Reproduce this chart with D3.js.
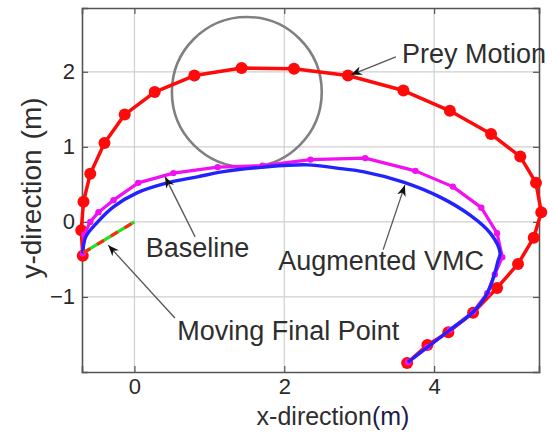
<!DOCTYPE html>
<html>
<head>
<meta charset="utf-8">
<script src="https://cdn.jsdelivr.net/npm/d3@7"></script>
<style>
  html, body { margin: 0; padding: 0; background: #fff; }
  svg { display: block; font-family: "Liberation Sans", Arial, Helvetica, sans-serif; }
</style>
</head>
<body>
<svg id="chart" width="553" height="435"></svg>
<script>
// Axis ticks
const xTicks = [0, 2, 4];
const yTicks = [-1, 0, 1, 2];

// Prey trajectory (sampled positions, metres)
const preyX = [-0.69, -0.71, -0.68, -0.59, -0.40, -0.13, 0.27, 0.80, 1.43, 2.13, 2.85, 3.59, 4.21, 4.76, 5.15, 5.36, 5.43, 5.33, 5.12, 4.84, 4.52, 4.19, 3.91, 3.64];
const preyY = [-0.45, -0.11, 0.27, 0.64, 1.05, 1.43, 1.73, 1.95, 2.05, 2.04, 1.95, 1.75, 1.48, 1.17, 0.87, 0.52, 0.13, -0.21, -0.56, -0.88, -1.21, -1.47, -1.64, -1.88];

// Pursuer path with the augmented virtual model control
const vmcX = [-0.69, -0.65, -0.49, -0.28, 0.04, 0.44, 0.84, 1.19, 1.72, 2.31, 2.75, 3.05, 3.59, 4.08, 4.48, 4.75, 4.88, 4.85, 4.81, 4.71, 4.52, 4.21, 3.91, 3.65];
const vmcY = [-0.42, -0.20, 0.00, 0.20, 0.39, 0.52, 0.60, 0.67, 0.73, 0.76, 0.71, 0.67, 0.53, 0.33, 0.09, -0.15, -0.41, -0.53, -0.68, -0.95, -1.20, -1.44, -1.67, -1.87];

// Pursuer path with the baseline controller
const baseX = [-0.69, -0.67, -0.59, -0.48, -0.28, 0.05, 0.52, 1.11, 1.71, 2.35, 3.08, 3.75, 4.25, 4.63, 4.84, 4.91, 4.81, 4.71, 4.52, 4.21, 3.91, 3.65];
const baseY = [-0.42, -0.17, 0.00, 0.13, 0.29, 0.52, 0.65, 0.73, 0.75, 0.83, 0.85, 0.68, 0.47, 0.19, -0.15, -0.47, -0.70, -0.95, -1.20, -1.44, -1.67, -1.87];

// Moving final point segment
const finalX = [-0.68, 0.0];
const finalY = [-0.41, 0.0];

// Obstacle (centre x, centre y, radius)
const obstacle = [1.5, 1.73, 1.0];

// Annotation labels
const noteLabels = ["Prey Motion", "Baseline", "Augmented VMC", "Moving Final Point"];

const svg = d3.select("#chart");
const plot = { left: 82, right: 539, top: 8, bottom: 372 };

const x = d3.scaleLinear().domain([-0.7, 5.4]).range([plot.left, plot.right]);
const y = d3.scaleLinear().domain([-2.0, 2.85]).range([plot.bottom, plot.top]);

const zip = (xs, ys) => xs.map((v, i) => [v, ys[i]]);

// Grid
const grid = svg.append("g");
grid.selectAll(".gx").data(xTicks).join("line")
  .attr("x1", d => x(d)).attr("x2", d => x(d))
  .attr("y1", plot.top).attr("y2", plot.bottom)
  .attr("stroke", "#cfcfcf").attr("stroke-width", 1.2);
grid.selectAll(".gy").data(yTicks).join("line")
  .attr("y1", d => y(d)).attr("y2", d => y(d))
  .attr("x1", plot.left).attr("x2", plot.right)
  .attr("stroke", "#cfcfcf").attr("stroke-width", 1.2);

// Axes with inward ticks
const axisColor = "#555";
const xAxis = svg.append("g").attr("transform", `translate(0,${plot.bottom})`)
  .call(d3.axisBottom(x).tickValues(xTicks).tickSize(-6).tickPadding(6).tickFormat(d3.format("d")));
const xAxisTop = svg.append("g").attr("transform", `translate(0,${plot.top})`)
  .call(d3.axisTop(x).tickValues(xTicks).tickSize(-6).tickFormat(""));
const yAxis = svg.append("g").attr("transform", `translate(${plot.left},0)`)
  .call(d3.axisLeft(y).tickValues(yTicks).tickSize(-6).tickPadding(7).tickFormat(d3.format("d")));
const yAxisRight = svg.append("g").attr("transform", `translate(${plot.right},0)`)
  .call(d3.axisRight(y).tickValues(yTicks).tickSize(-6).tickFormat(""));

[xAxis, xAxisTop, yAxis, yAxisRight].forEach(g => {
  g.select(".domain").attr("stroke", axisColor).attr("stroke-width", 1.6);
  g.selectAll(".tick line").attr("stroke", axisColor).attr("stroke-width", 1.2);
  g.selectAll(".tick text").attr("fill", "#2a2a2a").attr("font-size", 22)
    .attr("font-family", "Liberation Sans, Arial, sans-serif");
});

// Obstacle circle
svg.append("ellipse")
  .attr("cx", x(obstacle[0])).attr("cy", y(obstacle[1]))
  .attr("rx", x(obstacle[0] + obstacle[2]) - x(obstacle[0]))
  .attr("ry", y(obstacle[1]) - y(obstacle[1] + obstacle[2]))
  .attr("fill", "none").attr("stroke", "#808080").attr("stroke-width", 2.6);

const line = d3.line().x(d => x(d[0])).y(d => y(d[1]));
const smooth = d3.line().x(d => x(d[0])).y(d => y(d[1])).curve(d3.curveCatmullRom.alpha(0.5));

// Prey motion
const prey = zip(preyX, preyY);
svg.append("path").datum(prey).attr("d", line)
  .attr("fill", "none").attr("stroke", "#ff0a0a").attr("stroke-width", 3.5).attr("stroke-linejoin", "round");
svg.append("g").selectAll("circle").data(prey).join("circle")
  .attr("cx", d => x(d[0])).attr("cy", d => y(d[1])).attr("r", 6)
  .attr("fill", "#ff0a0a");

// Baseline path
const base = zip(baseX, baseY);
svg.append("path").datum(base).attr("d", line)
  .attr("fill", "none").attr("stroke", "#f010f0").attr("stroke-width", 3.2).attr("stroke-linejoin", "round");
svg.append("g").selectAll("circle").data(base).join("circle")
  .attr("cx", d => x(d[0])).attr("cy", d => y(d[1])).attr("r", 3.2)
  .attr("fill", "#f010f0");

// Augmented VMC path
const vmc = zip(vmcX, vmcY);
svg.append("path").datum(vmc).attr("d", smooth)
  .attr("fill", "none").attr("stroke", "#2222ff").attr("stroke-width", 3.4).attr("stroke-linejoin", "round");

// Moving final point (green with red dashes)
const fin = zip(finalX, finalY);
svg.append("path").datum(fin).attr("d", line)
  .attr("fill", "none").attr("stroke", "#22e022").attr("stroke-width", 3.2);
svg.append("path").datum(fin).attr("d", line)
  .attr("fill", "none").attr("stroke", "#ff2a0a").attr("stroke-width", 3.2)
  .attr("stroke-dasharray", "8,8");

// Annotations: label anchor and arrow (tail -> tip) in data units
const notes = [
  { text: noteLabels[0], at: [3.57, 2.12], tail: [3.49, 2.20], tip: [2.89, 1.96] },
  { text: noteLabels[1], at: [0.15, -0.47], tail: [0.81, -0.20], tip: [0.41, 0.60] },
  { text: noteLabels[2], at: [1.92, -0.64], tail: [3.32, -0.37], tip: [3.61, 0.49] },
  { text: noteLabels[3], at: [0.57, -1.57], tail: [0.54, -1.28], tip: [-0.35, -0.31] }
];

svg.append("defs").append("marker")
  .attr("id", "arrowHead").attr("viewBox", "0 0 10 10")
  .attr("refX", 10).attr("refY", 5)
  .attr("markerWidth", 11).attr("markerHeight", 11)
  .attr("markerUnits", "userSpaceOnUse")
  .attr("orient", "auto")
  .append("path").attr("d", "M0,1 L10,5 L0,9 L3,5 Z").attr("fill", "#111");

const ann = svg.append("g");
ann.selectAll("line").data(notes).join("line")
  .attr("x1", d => x(d.tail[0])).attr("y1", d => y(d.tail[1]))
  .attr("x2", d => x(d.tip[0])).attr("y2", d => y(d.tip[1]))
  .attr("stroke", "#555").attr("stroke-width", 1.3)
  .attr("marker-end", "url(#arrowHead)");
ann.selectAll("text").data(notes).join("text")
  .attr("x", d => x(d.at[0])).attr("y", d => y(d.at[1]))
  .attr("font-size", 27).attr("fill", "#2e2e2e")
  .text(d => d.text);

// Axis titles
const xt = svg.append("text")
  .attr("x", 333).attr("y", 425).attr("text-anchor", "middle")
  .attr("font-size", 25).attr("fill", "#2e2e2e");
xt.append("tspan").text("x-direction");
xt.append("tspan").attr("fill", "#1c1c4a").text("(m)");

const yt = svg.append("text")
  .attr("transform", "translate(41,188) rotate(-90)")
  .attr("text-anchor", "middle")
  .attr("font-size", 28).attr("fill", "#2e2e2e");
yt.append("tspan").text("y-direction");
yt.append("tspan").attr("dx", 10).text("(m)");
</script>
</body>
</html>
